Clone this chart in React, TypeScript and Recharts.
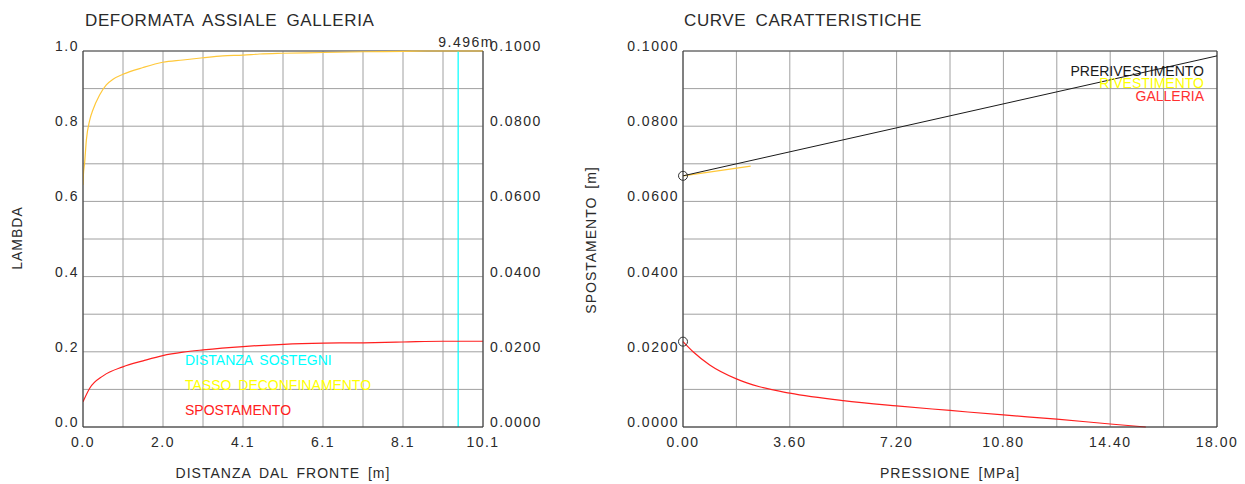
import { LineChart, Line, XAxis, YAxis, CartesianGrid, ReferenceLine, ReferenceDot } from 'recharts';

// ---- deformata assiale (left) ----
const distMax = 10.125;
const distTickLabels = ['0.0', '2.0', '4.1', '6.1', '8.1', '10.1'];
const lambdaTickLabels = ['0.0', '0.2', '0.4', '0.6', '0.8', '1.0'];
const spostTickLabels = ['0.0000', '0.0200', '0.0400', '0.0600', '0.0800', '0.1000'];
const distanzaSostegni = 9.496;

const lambdaX = [0, 0.01, 0.04, 0.085, 0.17, 0.25, 0.42, 0.59, 0.76, 1.01, 1.52, 2.02, 2.53, 3.04, 3.54, 4.05, 4.47, 5.06, 6.08, 7.1, 8.1, 8.7, 9.5, 10.125];
const lambdaY = [0.644, 0.67, 0.701, 0.763, 0.816, 0.843, 0.883, 0.91, 0.925, 0.938, 0.956, 0.97, 0.976, 0.982, 0.987, 0.989, 0.992, 0.994, 0.996, 0.998, 0.999, 1.0, 1.0, 1.0];

const spostX = [0, 0.17, 0.51, 1.01, 1.52, 2.02, 2.53, 3.04, 4.05, 5.08, 6.1, 7.1, 8.1, 9.11, 10.125];
const spostY = [0.0067, 0.0103, 0.0136, 0.016, 0.0176, 0.019, 0.0199, 0.0205, 0.0214, 0.022, 0.0223, 0.0224, 0.0226, 0.0228, 0.0228];

// ---- curve caratteristiche (right) ----
const pressMax = 18;
const pressTickLabels = ['0.00', '3.60', '7.20', '10.80', '14.40', '18.00'];
const displTickLabels = ['0.0000', '0.0200', '0.0400', '0.0600', '0.0800', '0.1000'];

const preX = [0, 18];
const preY = [0.0668, 0.0987];
const rivX = [0, 2.28];
const rivY = [0.0668, 0.0694];
const galX = [0, 0.34, 0.9, 1.8, 2.58, 3.6, 5.4, 7.2, 9.0, 10.8, 12.6, 14.4, 15.6];
const galY = [0.0227, 0.02, 0.0165, 0.0128, 0.0107, 0.009, 0.007, 0.0056, 0.0044, 0.0032, 0.0021, 0.0008, 0];

const lambdaData = lambdaX.map((x, i) => ({ x, v: lambdaY[i] }));
const spostData = spostX.map((x, i) => ({ x, v: spostY[i] }));
const preData = preX.map((x, i) => ({ x, v: preY[i] }));
const rivData = rivX.map((x, i) => ({ x, v: rivY[i] }));
const galData = galX.map((x, i) => ({ x, v: galY[i] }));

const steps = (max: number) => Array.from({ length: 11 }, (_, i) => (i * max) / 10);

const FONT = '"Liberation Sans", Arial, sans-serif';
const INK = '#2a2a2a';
const GRID = '#a0a0a0';
const FRAME = '#333';
const tickText = { fontFamily: FONT, fontSize: 14, fill: INK, letterSpacing: 1.5 };

const xTick = (labels: string[]) => (p: any) =>
  p.index % 2 === 0 ? (
    <text x={p.x} y={p.y + 20} textAnchor="middle" {...tickText}>{labels[p.index / 2]}</text>
  ) : <g />;

const yTickLeft = (labels: string[], step: number) => (p: any) =>
  p.index % step === 0 ? (
    <text x={p.x - 4} y={p.y} textAnchor="end" {...tickText}>{labels[p.index / step]}</text>
  ) : <g />;

const yTickRight = (labels: string[]) => (p: any) => (
  <text x={p.x + 7} y={p.y} textAnchor="start" {...tickText}>{labels[p.index]}</text>
);

function DeformataChart() {
  return (
    <LineChart width={600} height={484} margin={{ top: 51, left: 40, right: 57, bottom: 27 }}>
      <CartesianGrid yAxisId="l" stroke={GRID} strokeWidth={1} />
      <XAxis type="number" dataKey="x" domain={[0, distMax]} ticks={steps(distMax)} interval={0}
        tick={xTick(distTickLabels)} tickLine={false} tickSize={0} tickMargin={0} height={30}
        axisLine={{ stroke: FRAME }} allowDataOverflow />
      <YAxis yAxisId="l" type="number" domain={[0, 1]} ticks={steps(1)} interval={0} width={43}
        tick={yTickLeft(lambdaTickLabels, 2)} tickLine={false} tickSize={0} tickMargin={0}
        axisLine={{ stroke: FRAME }} />
      <YAxis yAxisId="r" orientation="right" type="number" domain={[0, 0.1]} ticks={steps(0.1).filter((_, i) => i % 2 === 0)}
        interval={0} width={60} tick={yTickRight(spostTickLabels)} tickLine={false} tickSize={0} tickMargin={0}
        axisLine={{ stroke: FRAME }} />
      <ReferenceLine yAxisId="l" y={1} stroke="#555" />
      <ReferenceLine yAxisId="l" x={distanzaSostegni} stroke="#00ffff" strokeWidth={1.2} />
      <Line yAxisId="l" data={lambdaData} dataKey="v" type="monotone" stroke="#ffc83a" strokeWidth={1.2}
        dot={false} isAnimationActive={false} />
      <Line yAxisId="r" data={spostData} dataKey="v" type="monotone" stroke="#ff2020" strokeWidth={1.2}
        dot={false} isAnimationActive={false} />
    </LineChart>
  );
}

function CurveChart() {
  return (
    <LineChart width={645} height={484} margin={{ top: 51, left: 13, right: 28, bottom: 27 }}>
      <CartesianGrid stroke={GRID} strokeWidth={1} />
      <XAxis type="number" dataKey="x" domain={[0, pressMax]} ticks={steps(pressMax)} interval={0}
        tick={xTick(pressTickLabels)} tickLine={false} tickSize={0} tickMargin={0} height={30}
        axisLine={{ stroke: FRAME }} />
      <YAxis type="number" domain={[0, 0.1]} ticks={steps(0.1)} interval={0} width={70}
        tick={yTickLeft(displTickLabels, 2)} tickLine={false} tickSize={0} tickMargin={0}
        axisLine={{ stroke: FRAME }} />
      <ReferenceLine y={0.1} stroke="#555" />
      <ReferenceLine x={pressMax} stroke={FRAME} />
      <Line data={galData} dataKey="v" type="monotone" stroke="#ff2020" strokeWidth={1.2}
        dot={false} isAnimationActive={false} />
      <Line data={rivData} dataKey="v" type="linear" stroke="#ffc83a" strokeWidth={1.2}
        dot={false} isAnimationActive={false} />
      <Line data={preData} dataKey="v" type="linear" stroke="#1a1a1a" strokeWidth={1}
        dot={false} isAnimationActive={false} />
      <ReferenceDot x={preX[0]} y={preY[0]} r={4.5} fill="none" stroke="#333" strokeWidth={1} />
      <ReferenceDot x={galX[0]} y={galY[0]} r={4.5} fill="none" stroke="#333" strokeWidth={1} />
    </LineChart>
  );
}

export default function App() {
  const title = { fontFamily: FONT, fontSize: 17, fill: INK, letterSpacing: 0.6, wordSpacing: 4 };
  const axisTitle = { fontFamily: FONT, fontSize: 14, fill: INK, letterSpacing: 1, wordSpacing: 3 };
  const legend = { fontFamily: FONT, fontSize: 14, wordSpacing: 3 };
  return (
    <div style={{ position: 'relative', width: 1245, height: 484, background: '#fff' }}>
      <style>{'body{margin:0}'}</style>
      <div style={{ position: 'absolute', left: 0, top: 0 }}>
        <DeformataChart />
      </div>
      <div style={{ position: 'absolute', left: 600, top: 0 }}>
        <CurveChart />
      </div>
      <svg width={1245} height={484} style={{ position: 'absolute', left: 0, top: 0, pointerEvents: 'none' }}>
        <text x={85} y={26} {...title}>DEFORMATA ASSIALE GALLERIA</text>
        <text x={684} y={26} {...title}>CURVE CARATTERISTICHE</text>
        <text x={494} y={46.5} textAnchor="end" {...tickText}>9.496m</text>
        <text transform="translate(22,238) rotate(-90)" textAnchor="middle" {...axisTitle}>LAMBDA</text>
        <text transform="translate(596,240) rotate(-90)" textAnchor="middle" {...axisTitle}>SPOSTAMENTO [m]</text>
        <text x={283} y={478} textAnchor="middle" {...axisTitle}>DISTANZA DAL FRONTE [m]</text>
        <text x={950} y={478} textAnchor="middle" {...axisTitle}>PRESSIONE [MPa]</text>
        <text x={185} y={365} fill="#00ffff" {...legend}>DISTANZA SOSTEGNI</text>
        <text x={185} y={389.5} fill="#ffff00" {...legend}>TASSO DECONFINAMENTO</text>
        <text x={185} y={415} fill="#ff2020" {...legend}>SPOSTAMENTO</text>
        <text x={1204} y={75.5} textAnchor="end" fill="#1a1a1a" {...legend}>PRERIVESTIMENTO</text>
        <text x={1204} y={87.5} textAnchor="end" fill="#ffff00" {...legend}>RIVESTIMENTO</text>
        <text x={1204} y={101} textAnchor="end" fill="#ff3030" {...legend}>GALLERIA</text>
      </svg>
    </div>
  );
}
